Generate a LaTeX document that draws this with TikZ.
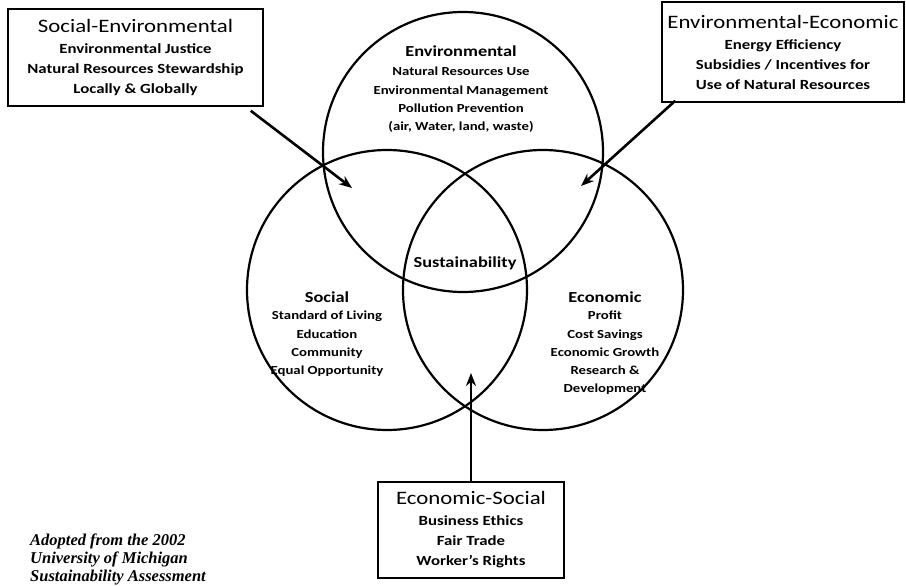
\documentclass[tikz,border=0pt]{standalone}
\usepackage{fontspec}
\setmainfont{Carlito}
\newfontfamily\wide[FakeStretch=1.2,Ligatures=TeX]{Carlito}
\newfontfamily\notefont{Liberation Serif}
\usetikzlibrary{arrows.meta}
\tikzset{
  ring/.style={circle, draw, line width=2.2pt, minimum size=280pt, inner sep=0pt},
  box/.style={draw, line width=1.5pt, inner sep=0pt, align=center,
              font=\wide\bfseries\fontsize{14}{20}\selectfont},
  arr/.style={line width=2.6pt, -{Stealth[length=13pt,width=10pt]}},
  ctitle/.style={font=\wide\bfseries\fontsize{15.3}{18}\selectfont, inner sep=0pt},
  cbody/.style={font=\wide\bfseries\fontsize{12.3}{18.3}\selectfont, align=center, inner sep=0pt},
  note/.style={font=\notefont\bfseries\itshape\fontsize{16.5}{18}\selectfont, align=left, inner sep=0pt, anchor=north west},
}
\newcommand{\bigtitle}[1]{{\mdseries\fontsize{19}{23}\selectfont #1}}
\begin{document}
\begin{tikzpicture}[x=1pt,y=-1pt]
\useasboundingbox (0,0) rectangle (906,586);
\fill[white] (0,0) rectangle (906,586);

% circles
\node[ring] (env) at (463,152) {};
\node[ring] (soc) at (387,290) {};
\node[ring] (eco) at (543,290) {};

% circle texts
\node[ctitle] (envt) at (461,51) {Environmental};
\node[cbody] (envb) at (461,100) {Natural Resources Use\\Environmental Management\\Pollution Prevention\\(air, Water, land, waste)};
\node[ctitle] (sust) at (465,263) {Sustainability};
\node[ctitle] (soct) at (327,297) {Social};
\node[cbody] (socb) at (327,344) {Standard of Living\\Education\\Community\\Equal Opportunity};
\node[ctitle] (ecot) at (605,297) {Economic};
\node[cbody] (ecob) at (605,353) {Profit\\Cost Savings\\Economic Growth\\Research \&\\Development};

% boxes
\node[box, minimum width=255pt, minimum height=97pt] (se) at (135.5,57.5)
  {\bigtitle{Social-Environmental}\\[1pt]Environmental Justice\\Natural Resources Stewardship\\Locally \& Globally};
\node[box, minimum width=242pt, minimum height=100pt] (ee) at (783,52)
  {\bigtitle{Environmental-Economic}\\[1pt]Energy Efficiency\\Subsidies / Incentives for\\Use of Natural Resources};
\node[box, minimum width=186pt, minimum height=96pt] (es) at (471,530)
  {\bigtitle{Economic-Social}\\[1pt]Business Ethics\\Fair Trade\\Worker’s Rights};

% arrows
\coordinate (tipL) at (352,188);
\coordinate (tipR) at (581,186);
\coordinate (tipB) at (471,373);
\draw[arr] ([shift={(-13,4)}]se.south east) -- (tipL);
\draw[arr] ([shift={(14,-2)}]ee.south west) -- (tipR);
\draw[arr] (es.north) -- (tipB);

% note
\node[note] (src) at (30,534) {Adopted from the 2002\\University of Michigan\\Sustainability Assessment};
\end{tikzpicture}
\end{document}
